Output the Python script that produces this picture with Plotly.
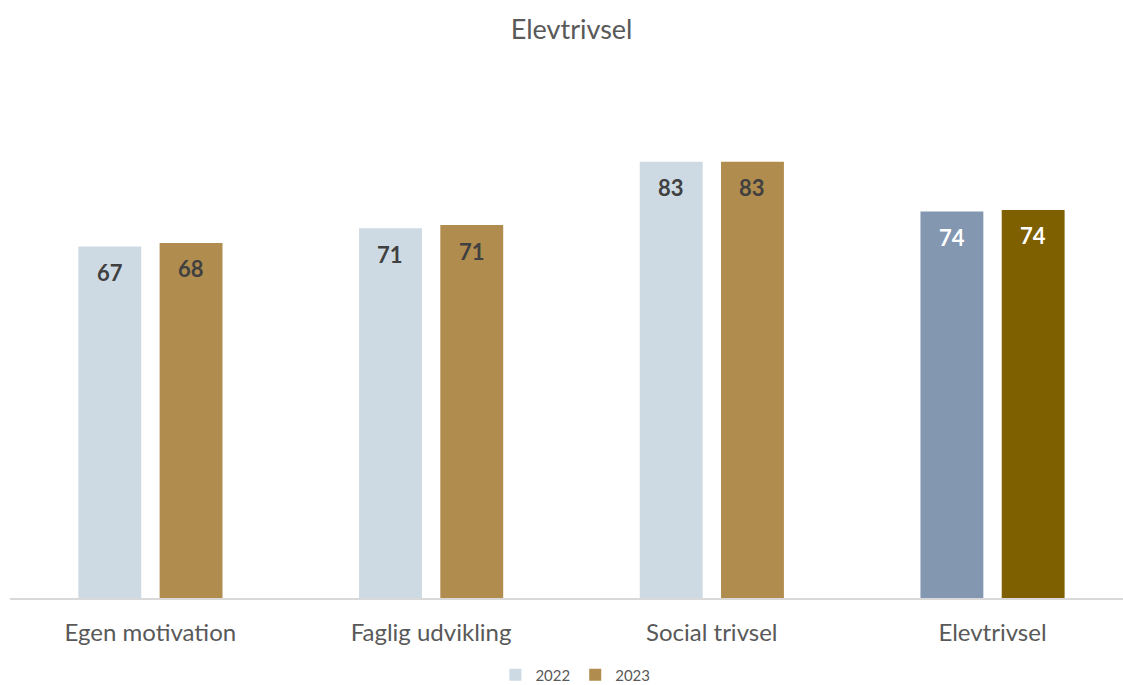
import plotly.graph_objects as go

categories = ["Egen motivation", "Faglig udvikling", "Social trivsel", "Elevtrivsel"]
values_2022 = [67.2, 70.7, 83.4, 73.9]
values_2023 = [67.9, 71.3, 83.4, 74.2]
colors_2022 = ["#CDDAE3", "#CDDAE3", "#CDDAE3", "#8497B0"]
colors_2023 = ["#B08C4E", "#B08C4E", "#B08C4E", "#7F6000"]
label_colors = ["#404040", "#404040", "#404040", "#FFFFFF"]

FONT = "Lato"
W, H = 1123, 685
ML, MR, MT, MB = 10, 0, 75, 87
BAR_W = 0.224
OFF_22 = -0.2565
OFF_23 = 0.033
XRANGE = [-0.5, 3.465]
px_per_cat = (W - ML - MR) / (XRANGE[1] - XRANGE[0])

fig = go.Figure()
fig.add_trace(go.Bar(
    name="2022", x=categories, y=values_2022,
    marker=dict(color=colors_2022, line=dict(width=0)),
    width=BAR_W, offset=OFF_22, hoverinfo="skip",
))
fig.add_trace(go.Bar(
    name="2023", x=categories, y=values_2023,
    marker=dict(color=colors_2023, line=dict(width=0)),
    width=BAR_W, offset=OFF_23, hoverinfo="skip",
))

annotations = []
for vals, off in ((values_2022, OFF_22), (values_2023, OFF_23)):
    shift = (off + BAR_W / 2) * px_per_cat
    for cat, v, c in zip(categories, vals, label_colors):
        annotations.append(dict(
            x=cat, y=v, xref="x", yref="y", text=f"{v:.0f}", showarrow=False,
            xshift=shift, yshift=-26,
            font=dict(family=FONT, size=22, color=c, weight="bold"),
        ))

fig.update_layout(
    width=W, height=H,
    margin=dict(l=ML, r=MR, t=MT, b=MB, autoexpand=False),
    paper_bgcolor="white", plot_bgcolor="white",
    barmode="overlay",
    title=dict(text="Elevtrivsel", x=0.509, xanchor="center", y=1 - 30 / H, yanchor="middle",
               font=dict(family=FONT, size=27, color="#595959")),
    xaxis=dict(range=XRANGE, showline=True, linecolor="#D9D9D9", linewidth=1.5,
               ticks="", showgrid=False, zeroline=False, ticklabelstandoff=12,
               automargin=False,
               tickfont=dict(family=FONT, size=24, color="#595959")),
    yaxis=dict(range=[0, 100], visible=False, showgrid=False, zeroline=False),
    legend=dict(orientation="h", x=0.508, xanchor="center",
                yref="container", y=1 - 675 / H, yanchor="middle",
                font=dict(family=FONT, size=15, color="#595959"),
                itemwidth=30, traceorder="normal"),
    annotations=annotations,
    showlegend=True,
)

fig.write_html(
    "out.html",
    config={"displayModeBar": False},
    post_script="document.body.style.margin='0';document.body.style.overflow='hidden';"
                "document.documentElement.style.overflow='hidden';",
)
